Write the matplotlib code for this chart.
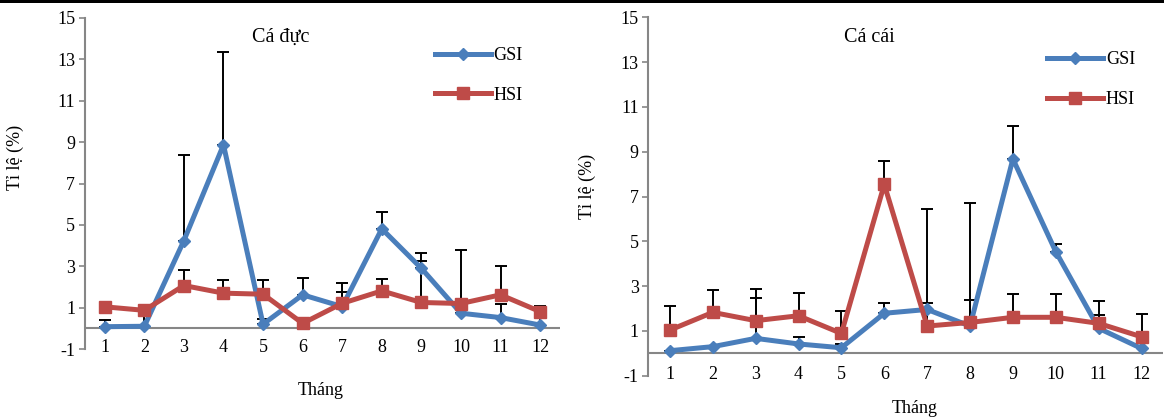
# Biểu đồ GSI / HSI theo tháng - cá đực và cá cái
import numpy as np
from matplotlib import pyplot as plt
from matplotlib.patches import Rectangle

plt.rcParams['font.family'] = ['Liberation Serif', 'DejaVu Serif']
plt.rcParams['axes.unicode_minus'] = False

# dữ liệu
thang = np.arange(1, 13)
nhan_thang = [str(i) for i in thang]
yticks = [-1, 1, 3, 5, 7, 9, 11, 13, 15]

# cá đực
gsi_duc = [0.08, 0.10, 4.24, 8.87, 0.20, 1.62, 1.05, 4.81, 2.90, 0.73, 0.52, 0.16]
gsi_duc_sd = [0.30, 1.00, 4.16, 4.49, 0.23, 0.81, 0.73, 0.81, 0.74, 3.04, 0.64, 0.50]
hsi_duc = [1.04, 0.87, 2.07, 1.70, 1.65, 0.24, 1.21, 1.81, 1.25, 1.20, 1.62, 0.81]
hsi_duc_sd = [0.10, 0.15, 0.75, 0.65, 0.70, 0.28, 0.98, 0.59, 2.02, 0.05, 1.38, 0.26]

# cá cái
gsi_cai = [0.12, 0.30, 0.67, 0.42, 0.25, 1.79, 1.96, 1.22, 8.68, 4.54, 1.12, 0.22]
gsi_cai_sd = [0.00, 0.00, 1.79, 0.29, 0.17, 0.47, 0.30, 5.48, 1.48, 0.33, 0.59, 0.00]
hsi_cai = [1.04, 1.83, 1.46, 1.68, 0.89, 7.54, 1.22, 1.38, 1.61, 1.61, 1.34, 0.74]
hsi_cai_sd = [1.07, 1.00, 1.40, 1.00, 1.01, 1.05, 5.22, 1.00, 1.02, 1.02, 0.99, 1.01]

xanh = '#4A7EBB'
do = '#BE4B48'
xam = '#868686'

fig = plt.figure(figsize=(11.64, 4.18), dpi=100)
# vạch đen trên cùng
fig.add_artist(Rectangle((0, 0.992), 1, 0.008, transform=fig.transFigure,
                         color='black', lw=0))

ax1 = fig.add_axes([0.0730, 0.165, 0.408, 0.792])
ax2 = fig.add_axes([0.5571, 0.101, 0.442, 0.8576])


def ve(ax, gsi, gsi_sd, hsi, hsi_sd, tieu_de, tx, ty, lg, xl, yl):
    ax.errorbar(thang, gsi, yerr=[np.zeros(12), gsi_sd], fmt='none',
                ecolor='black', elinewidth=1.4, capsize=4.5, capthick=1.4, zorder=2)
    ax.errorbar(thang, hsi, yerr=[np.zeros(12), hsi_sd], fmt='none',
                ecolor='black', elinewidth=1.4, capsize=4.5, capthick=1.4, zorder=2)
    ax.plot(thang, gsi, color=xanh, lw=3.6, marker='D', ms=6, label='GSI', zorder=3)
    ax.plot(thang, hsi, color=do, lw=3.6, marker='s', ms=8.5, label='HSI', zorder=3)
    ax.axhline(0, color=xam, lw=1.5, zorder=1)

    ax.set_xlim(0.5, 12.5)
    ax.set_ylim(-1, 15)
    ax.set_xticks(thang, nhan_thang)
    ax.set_yticks(yticks)
    ax.tick_params(axis='x', length=0, pad=-7, labelsize=13)
    ax.tick_params(axis='y', direction='out', length=4, color=xam, width=1.2,
                   labelsize=13, pad=3)
    for s in ['top', 'right', 'bottom']:
        ax.spines[s].set_visible(False)
    ax.spines['left'].set_color(xam)
    ax.spines['left'].set_linewidth(1.5)

    ax.text(tx, ty, tieu_de, transform=ax.transAxes, ha='center', va='center', fontsize=14.5)
    ax.set_xlabel('Tháng', fontsize=13)
    ax.xaxis.set_label_coords(*xl)
    ax.set_ylabel('Tỉ lệ (%)', fontsize=13)
    ax.yaxis.set_label_coords(*yl)
    ax.legend(loc='upper left', bbox_to_anchor=lg, frameon=False, fontsize=13,
              handlelength=3.1, handletextpad=0.15, labelspacing=1.25,
              borderpad=0, borderaxespad=0)


ve(ax1, gsi_duc, gsi_duc_sd, hsi_duc, hsi_duc_sd, 'Cá đực', 0.413, 0.94,
   (0.737, 0.912), (0.497, -0.10), (-0.128, 0.58))
ve(ax2, gsi_cai, gsi_cai_sd, hsi_cai, hsi_cai_sd, 'Cá cái', 0.429, 0.943,
   (0.775, 0.905), (0.518, -0.068), (-0.102, 0.527))

plt.savefig('out.png')
